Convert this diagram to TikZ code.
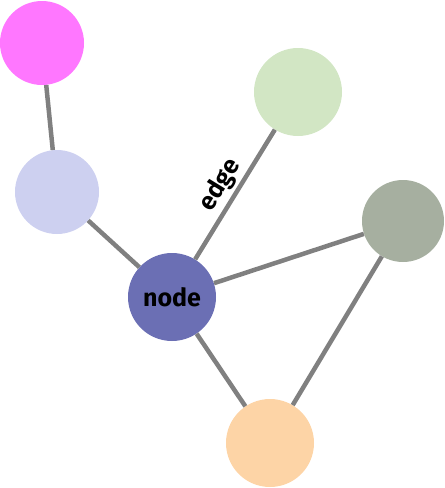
\documentclass[tikz,border=0pt]{standalone}
\usepackage{fontspec}
\setsansfont{Fira Sans}
\definecolor{cMag}{HTML}{FF77FF}
\definecolor{cLav}{HTML}{CDD0F0}
\definecolor{cNode}{HTML}{6B6FB4}
\definecolor{cGreen}{HTML}{D2E6C4}
\definecolor{cGray}{HTML}{A6AFA0}
\definecolor{cPeach}{HTML}{FDD4A6}
\definecolor{cEdge}{HTML}{808080}
\tikzset{
  ball/.style={circle, inner sep=0pt, draw=none, fill=#1},
  link/.style={draw=cEdge, line width=4.5pt},
  lbl/.style={font=\sffamily\bfseries\fontsize{25}{27}\selectfont, text=black}
}
\begin{document}
\begin{tikzpicture}[x=1pt,y=-1pt]
\useasboundingbox (0,0) rectangle (445,488);
\node[ball=cMag, minimum size=84pt] (m) at (42,43) {};
\node[ball=cLav, minimum size=84pt] (l) at (57,192) {};
\node[ball=cNode, minimum size=88pt, lbl] (n) at (172,297) {node};
\node[ball=cGreen, minimum size=88pt] (g) at (298,92) {};
\node[ball=cGray, minimum size=82pt] (s) at (403,221) {};
\node[ball=cPeach, minimum size=88pt] (p) at (270,443) {};
\draw[link] (m) -- (l);
\draw[link] (l) -- (n);
\draw[link] (n) -- node[midway, sloped, above, lbl, inner sep=3pt] {edge} (g);
\draw[link] (n) -- (s);
\draw[link] (n) -- (p);
\draw[link] (s) -- (p);
\end{tikzpicture}
\end{document}
